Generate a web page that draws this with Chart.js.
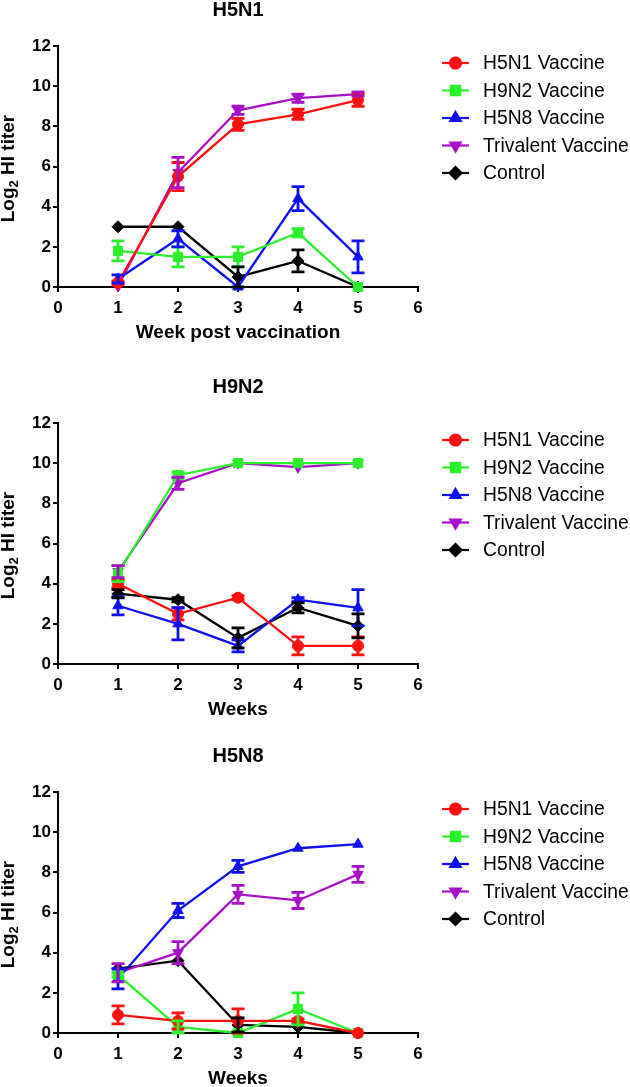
<!DOCTYPE html>
<html><head><meta charset="utf-8">
<script src="https://cdn.jsdelivr.net/npm/chart.js@4.4.1/dist/chart.umd.min.js"></script>
<style>
html,body{margin:0;padding:0;background:#fff;width:630px;height:1087px;overflow:hidden;}
canvas{position:absolute;left:0;}
</style></head><body>
<canvas id="c1" width="630" height="350" style="top:0px"></canvas>
<canvas id="c2" width="630" height="360" style="top:377px"></canvas>
<canvas id="c3" width="630" height="341" style="top:746px"></canvas>
<script>
// ---- data ----
const weeks = [1, 2, 3, 4, 5];
const seriesNames = ['H5N1 Vaccine', 'H9N2 Vaccine', 'H5N8 Vaccine', 'Trivalent Vaccine', 'Control'];
const xTicks = [0, 1, 2, 3, 4, 5, 6];
const yTicks = [0, 2, 4, 6, 8, 10, 12];
const panelTitles = ['H5N1', 'H9N2', 'H5N8'];
const xTitles = ['Week post vaccination', 'Weeks', 'Weeks'];

// Panel H5N1 (means, errors)
const p1_H5N1 = [0.2, 5.5, 8.1, 8.6, 9.3];   const p1_H5N1_err = [0.1, 0.7, 0.3, 0.25, 0.3];
const p1_H9N2 = [1.8, 1.5, 1.5, 2.7, 0];     const p1_H9N2_err = [0.5, 0.5, 0.5, 0.2, 0];
const p1_H5N8 = [0.4, 2.4, 0, 4.4, 1.5];     const p1_H5N8_err = [0.2, 0.4, 0, 0.6, 0.8];
const p1_Tri  = [0.05, 5.7, 8.8, 9.4, 9.6];  const p1_Tri_err  = [0, 0.75, 0.2, 0.2, 0.1];
const p1_Ctrl = [3, 3, 0.5, 1.3, 0];         const p1_Ctrl_err = [0, 0, 0.5, 0.55, 0];

// Panel H9N2
const p2_H5N1 = [4.0, 2.5, 3.3, 0.9, 0.9];   const p2_H5N1_err = [0.2, 0.3, 0.1, 0.45, 0.45];
const p2_H9N2 = [4.5, 9.4, 10, 10, 10];      const p2_H9N2_err = [0.4, 0.15, 0, 0, 0];
const p2_H5N8 = [2.9, 2.0, 0.9, 3.2, 2.8];   const p2_H5N8_err = [0.45, 0.8, 0.3, 0.1, 0.9];
const p2_Tri  = [4.6, 9.0, 10, 9.8, 10];     const p2_Tri_err  = [0.3, 0.3, 0, 0, 0];
const p2_Ctrl = [3.5, 3.2, 1.3, 2.8, 1.9];   const p2_Ctrl_err = [0.2, 0.1, 0.5, 0.25, 0.6];

// Panel H5N8
const p3_H5N1 = [0.9, 0.6, 0.6, 0.6, 0];     const p3_H5N1_err = [0.45, 0.4, 0.6, 0.1, 0];
const p3_H9N2 = [2.9, 0.3, 0, 1.2, 0];       const p3_H9N2_err = [0.1, 0.3, 0, 0.8, 0];
const p3_H5N8 = [2.7, 6.1, 8.3, 9.2, 9.4];   const p3_H5N8_err = [0.5, 0.35, 0.3, 0, 0];
const p3_Tri  = [3.0, 4.0, 6.9, 6.6, 7.9];   const p3_Tri_err  = [0.45, 0.55, 0.45, 0.4, 0.4];
const p3_Ctrl = [3.2, 3.6, 0.4, 0.3, 0];     const p3_Ctrl_err = [0, 0, 0.35, 0, 0];

// ---- styles ----
const colors = ['#ff1010', '#2cf02c', '#1010f0', '#a810c8', '#000000'];
const pStyles = ['circle', 'rect', 'triangle', 'triangle', 'rectRot'];
const pRot = [0, 0, 0, 180, 0];
const pRad = [5.5, 6.5, 6, 6, 6];
const FONT = '"Liberation Sans", Arial, sans-serif';
Chart.defaults.font.family = FONT;

function drawMarker(ctx, style, r, rot, x, y) {
  if (Chart.helpers && Chart.helpers.drawPoint) {
    Chart.helpers.drawPoint(ctx, {pointStyle: style, radius: r, rotation: rot, borderWidth: 1}, x, y);
  } else {
    ctx.beginPath(); ctx.arc(x, y, r, 0, Math.PI * 2); ctx.fill(); ctx.stroke();
  }
}

const decorPlugin = {
  id: 'decor',
  afterDatasetsDraw(chart, args, opts) {
    const ctx = chart.ctx, xs = chart.scales.x, ys = chart.scales.y, ca = chart.chartArea;
    ctx.save();
    // error bars
    chart.data.datasets.forEach((ds, i) => {
      ctx.strokeStyle = ds.borderColor; ctx.lineWidth = 2.8;
      ds.data.forEach((v, j) => {
        const e = ds.err[j];
        if (!e) return;
        const x = xs.getPixelForValue(weeks[j]);
        const y1 = ys.getPixelForValue(v + e), y2 = ys.getPixelForValue(Math.max(0, v - e));
        ctx.beginPath();
        ctx.moveTo(x, y1); ctx.lineTo(x, y2);
        ctx.moveTo(x - 6.5, y1); ctx.lineTo(x + 6.5, y1);
        ctx.moveTo(x - 6.5, y2); ctx.lineTo(x + 6.5, y2);
        ctx.stroke();
      });
    });
    // title
    ctx.fillStyle = '#000'; ctx.textAlign = 'center'; ctx.textBaseline = 'middle';
    ctx.font = 'bold 20px ' + FONT;
    ctx.fillText(opts.title, (ca.left + ca.right) / 2, ca.top - 36);
    // x title
    ctx.font = 'bold 19px ' + FONT;
    ctx.fillText(opts.xTitle, (ca.left + ca.right) / 2, ca.bottom + 46);
    // y title with subscript
    ctx.save();
    ctx.translate(9, (ca.top + ca.bottom) / 2 + 2);
    ctx.rotate(-Math.PI / 2);
    ctx.textAlign = 'left';
    const f1 = 'bold 19px ' + FONT, f2 = 'bold 13px ' + FONT;
    ctx.font = f1; const w1 = ctx.measureText('Log').width, w3 = ctx.measureText(' HI titer').width;
    ctx.font = f2; const w2 = ctx.measureText('2').width;
    let x0 = -(w1 + w2 + w3) / 2;
    ctx.font = f1; ctx.fillText('Log', x0, 0);
    ctx.font = f2; ctx.fillText('2', x0 + w1, 5);
    ctx.font = f1; ctx.fillText(' HI titer', x0 + w1 + w2, 0);
    ctx.restore();
    // legend
    const ly0 = ca.top + 17, step = 27.5;
    chart.data.datasets.forEach((ds, i) => {
      const y = ly0 + i * step;
      ctx.strokeStyle = ds.borderColor; ctx.fillStyle = ds.borderColor; ctx.lineWidth = 2.2;
      ctx.beginPath(); ctx.moveTo(442, y); ctx.lineTo(469, y); ctx.stroke();
      drawMarker(ctx, ds.pointStyle, ds.pointRadius, ds.pointRotation, 455.5, y);
      ctx.fillStyle = '#000'; ctx.font = '19.3px ' + FONT; ctx.textAlign = 'left'; ctx.textBaseline = 'middle';
      ctx.fillText(ds.label, 483, y + 1);
    });
    ctx.restore();
  }
};

function makeChart(id, idx, series, errs, height) {
  const datasets = series.map((d, i) => ({
    label: seriesNames[i], data: d, err: errs[i],
    borderColor: colors[i], backgroundColor: colors[i],
    pointBackgroundColor: colors[i], pointBorderColor: colors[i],
    pointStyle: pStyles[i], pointRotation: pRot[i], pointRadius: pRad[i], pointBorderWidth: 1,
    borderWidth: 2.3, tension: 0, clip: false, fill: false
  }));
  const tickFont = {size: 17, weight: 'bold', family: FONT};
  new Chart(document.getElementById(id), {
    type: 'line',
    data: {labels: weeks, datasets: datasets},
    options: {
      responsive: false, animation: false,
      layout: {padding: {left: 0, right: 212, top: 46, bottom: 0}},
      plugins: {legend: {display: false}, tooltip: {enabled: false},
        decor: {title: panelTitles[idx], xTitle: xTitles[idx]}},
      scales: {
        x: {type: 'linear', min: 0, max: 6,
          afterBuildTicks: s => { s.ticks = xTicks.map(v => ({value: v})); },
          ticks: {color: '#000', font: tickFont, padding: 6},
          grid: {display: true, drawOnChartArea: false, drawTicks: true, tickLength: 5, color: '#000', lineWidth: 2},
          border: {display: true, color: '#000', width: 2},
          afterFit: s => { s.height = height - 287; }
        },
        y: {type: 'linear', min: 0, max: 12,
          afterBuildTicks: s => { s.ticks = yTicks.map(v => ({value: v})); },
          ticks: {color: '#000', font: tickFont, padding: 2},
          grid: {display: true, drawOnChartArea: false, drawTicks: true, tickLength: 5, color: '#000', lineWidth: 2},
          border: {display: true, color: '#000', width: 2},
          afterFit: s => { s.width = 58; }
        }
      }
    },
    plugins: [decorPlugin]
  });
}

makeChart('c1', 0, [p1_H5N1, p1_H9N2, p1_H5N8, p1_Tri, p1_Ctrl],
  [p1_H5N1_err, p1_H9N2_err, p1_H5N8_err, p1_Tri_err, p1_Ctrl_err], 350);
makeChart('c2', 1, [p2_H5N1, p2_H9N2, p2_H5N8, p2_Tri, p2_Ctrl],
  [p2_H5N1_err, p2_H9N2_err, p2_H5N8_err, p2_Tri_err, p2_Ctrl_err], 360);
makeChart('c3', 2, [p3_H5N1, p3_H9N2, p3_H5N8, p3_Tri, p3_Ctrl],
  [p3_H5N1_err, p3_H9N2_err, p3_H5N8_err, p3_Tri_err, p3_Ctrl_err], 341);
</script>
</body></html>
